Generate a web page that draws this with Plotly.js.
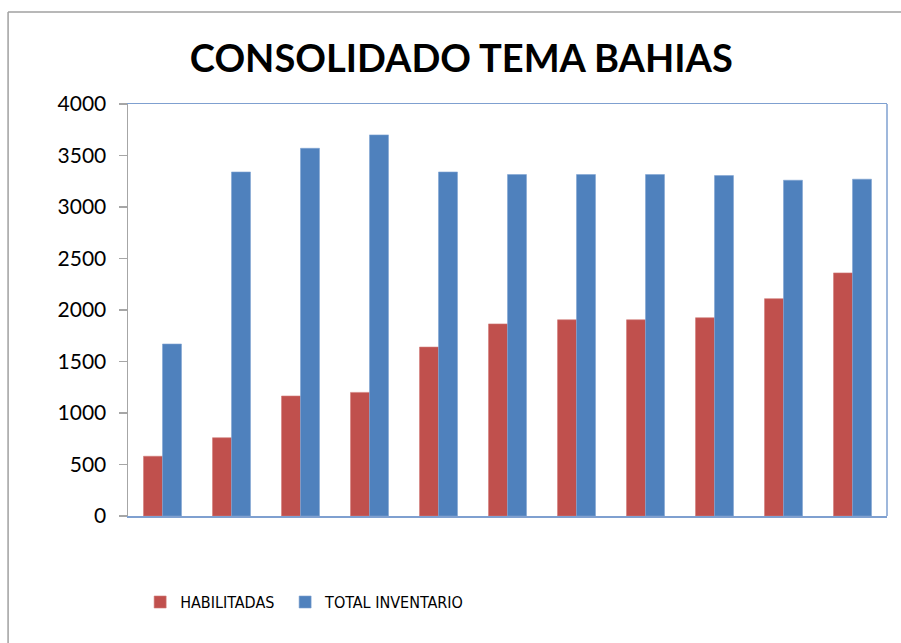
<!DOCTYPE html>
<html>
<head>
<meta charset="utf-8">
<script src="https://cdn.plot.ly/plotly-3.0.1.min.js"></script>
<style>
  html, body { margin: 0; padding: 0; background: #fff; }
  #chart { width: 901px; height: 643px; }
</style>
</head>
<body>
<div id="chart"></div>
<script>
const categories = ["1", "2", "3", "4", "5", "6", "7", "8", "9", "10", "11"];
const habilitadas = [580, 760, 1165, 1200, 1640, 1865, 1905, 1905, 1925, 2110, 2360];
const totalInventario = [1670, 3340, 3570, 3700, 3340, 3315, 3315, 3315, 3305, 3260, 3270];
const seriesNames = ["HABILITADAS", "TOTAL INVENTARIO"];
const yTicks = [0, 500, 1000, 1500, 2000, 2500, 3000, 3500, 4000];

const traces = [
  {
    type: "bar", name: seriesNames[0], x: categories, y: habilitadas, legend: "legend",
    marker: { color: "#C0504D", line: { color: "#D07A77", width: 0.6 } }
  },
  {
    type: "bar", name: seriesNames[1], x: categories, y: totalInventario, legend: "legend2",
    marker: { color: "#4F81BD", line: { color: "#7FA3D2", width: 0.6 } }
  }
];

const legendFont = { family: "'DejaVu Sans Condensed', Roboto, sans-serif", size: 16, color: "#000" };

const layout = {
  width: 901, height: 643,
  margin: { l: 128, r: 14, t: 104, b: 127 },
  paper_bgcolor: "#ffffff", plot_bgcolor: "#ffffff",
  showlegend: true,
  barmode: "group", bargap: 0.45, bargroupgap: 0,
  title: {
    text: "<b>CONSOLIDADO TEMA BAHIAS</b>",
    font: { family: "Lato, 'Open Sans', sans-serif", size: 38, color: "#000" },
    x: 0.512, xanchor: "center", y: 0.909, yanchor: "middle"
  },
  xaxis: {
    type: "category", showticklabels: false, ticks: "",
    showgrid: false, zeroline: false,
    showline: true, linecolor: "#7FA0D0", linewidth: 1.5, mirror: true
  },
  yaxis: {
    range: [0, 4000], tickvals: yTicks, ticktext: yTicks.map(String),
    showgrid: false, zeroline: false,
    showline: true, linecolor: "#A6A6A6", linewidth: 1.5,
    ticks: "outside", ticklen: 8, tickcolor: "#A6A6A6", tickwidth: 1.5,
    tickfont: { family: "Lato, sans-serif", size: 21, color: "#000" },
    ticklabelstandoff: 8
  },
  legend: {
    orientation: "h", x: 0.016, xanchor: "left", y: -0.209, yanchor: "middle",
    font: legendFont, itemwidth: 30, bgcolor: "rgba(0,0,0,0)"
  },
  legend2: {
    orientation: "h", x: 0.207, xanchor: "left", y: -0.209, yanchor: "middle",
    font: legendFont, itemwidth: 30, bgcolor: "rgba(0,0,0,0)"
  },
  shapes: [
    { type: "line", xref: "paper", yref: "paper", x0: 1, x1: 1, y0: 0, y1: 1,
      line: { color: "#7FA0D0", width: 1.5 } },
    { type: "line", xref: "paper", yref: "paper", x0: -0.158, x1: -0.158, y0: 1.223, y1: -0.4,
      line: { color: "#A0A0A0", width: 1.5 } },
    { type: "line", xref: "paper", yref: "paper", x0: -0.158, x1: 1.1, y0: 1.223, y1: 1.223,
      line: { color: "#A0A0A0", width: 1.5 } }
  ]
};

Plotly.newPlot("chart", traces, layout, { displayModeBar: false, staticPlot: true });
</script>
</body>
</html>
